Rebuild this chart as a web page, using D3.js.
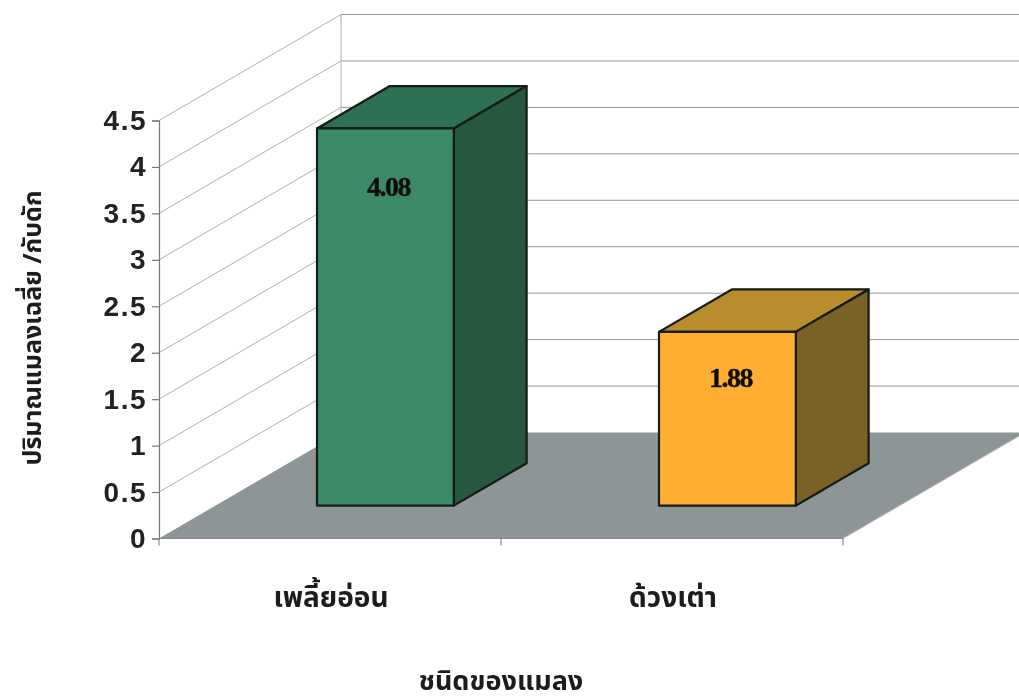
<!DOCTYPE html>
<html><head><meta charset="utf-8">
<script src="https://cdn.jsdelivr.net/npm/d3@7"></script>
<style>html,body{margin:0;background:#fff;overflow:hidden}svg{display:block}</style>
</head><body><div id="c"></div>
<script>
const categories = ["เพลี้ยอ่อน", "ด้วงเต่า"];
const values = [4.08, 1.88];
const valueLabels = ["4.08", "1.88"];
const ticks = [0, 0.5, 1, 1.5, 2, 2.5, 3, 3.5, 4, 4.5];
const frontColors = ["#3c8a68", "#ffae33"];
const sideColors = ["#25583f", "#7a6228"];
const topColors = ["#2f6f52", "#b98c2e"];
const yTitle = "ปริมาณแมลงเฉลี่ย /กับดัก";
const xTitle = "ชนิดของแมลง";

const W = 1019, H = 699;
const svg = d3.select("#c").append("svg").attr("width", W).attr("height", H);
svg.append("defs").append("filter").attr("id", "scan").attr("x", 0).attr("y", 0).attr("width", 1).attr("height", 1)
  .attr("filterUnits", "userSpaceOnUse").attr("width", W).attr("height", H)
  .append("feGaussianBlur").attr("stdDeviation", 0.45);
const g = svg.append("g").attr("filter", "url(#scan)");

const x0 = 159, x1 = 843, y0 = 538.5, yTop = 120.5;
const y = d3.scaleLinear().domain([0, 4.5]).range([y0, yTop]);
const x = d3.scaleBand().domain(categories).range([x0, x1]);
// depth axis: 0 = front of the floor, 1 = back wall
const dx = d3.scaleLinear().domain([0, 1]).range([0, 182]);
const dy = d3.scaleLinear().domain([0, 1]).range([0, -106]);
const barH = d3.scaleLinear().domain([0, 4.5]).range([0, 416]);
const barW = x.bandwidth() * 0.4;
const depthFront = 0.31, depthBack = 0.71;
const sideGrid = "#b0b0b0", backGrid = "#959595";
const line = d3.line();
const thaiFont = "'Noto Sans','Noto Sans Thai','DejaVu Sans',sans-serif";

// floor
g.append("path").attr("fill", "#8e9597").attr("d", line([
  [x0, y0], [x1, y0], [x1 + dx(1), y0 + dy(1)], [x0 + dx(1), y0 + dy(1)]]) + "Z");

// gridlines on side and back walls
ticks.forEach(t => {
  if (t > 0) {
    g.append("path").attr("fill", "none").attr("stroke", sideGrid)
      .attr("d", line([[x0, y(t)], [x0 + dx(1), y(t) + dy(1)]]));
    g.append("path").attr("fill", "none").attr("stroke", backGrid)
      .attr("d", line([[x0 + dx(1), y(t) + dy(1)], [W, y(t) + dy(1)]]));
  }
});
g.append("path").attr("fill", "none").attr("stroke", sideGrid)
  .attr("d", line([[x0 + dx(1), y(4.5) + dy(1)], [x0 + dx(1), y0 + dy(1)]]));
g.append("path").attr("fill", "none").attr("stroke", "#8a8a8a")
  .attr("d", line([[x0, y0], [x1, y0]]));
g.append("path").attr("fill", "none").attr("stroke", "#b5b5b5")
  .attr("d", line([[x1, y0], [x1 + dx(1), y0 + dy(1)]]));

// y axis
const yAxis = d3.axisLeft(y).tickValues(ticks).tickSize(7).tickPadding(5).tickFormat(d3.format("~g"));
const ya = g.append("g").attr("transform", `translate(${x0},0)`).call(yAxis);
ya.selectAll("path,line").attr("stroke", "#777").attr("stroke-width", 1.2);
ya.selectAll("text").attr("fill", "#222").attr("font-family", "'Liberation Sans'").attr("font-weight", 700)
  .attr("font-size", 28).attr("letter-spacing", 1.5);

// x axis ticks and labels
const xa = g.append("g").attr("transform", `translate(0,${y0})`);
[x0, x0 + x.bandwidth(), x1].forEach(p => xa.append("line").attr("x1", p).attr("x2", p).attr("y1", 0).attr("y2", 7).attr("stroke", "#777"));
categories.forEach(c => {
  xa.append("text").attr("x", x(c) + x.bandwidth() / 2 + 1).attr("y", 68).attr("text-anchor", "middle")
    .attr("font-family", thaiFont).attr("font-weight", 700).attr("font-size", 28).attr("fill", "#1a1a1a").text(c);
});

// bars
const edge = "#151a12";
categories.forEach((c, i) => {
  const cx = x(c) + x.bandwidth() / 2;
  const fx0 = cx - barW / 2 + dx(depthFront) - 1, fx1 = fx0 + barW;
  const base = y0 + dy(depthFront);
  const top = base - barH(values[i]);
  const ox = dx(depthBack - depthFront), oy = dy(depthBack - depthFront);
  const b = g.append("g").attr("stroke", edge).attr("stroke-width", 2.2).attr("stroke-linejoin", "round");
  b.append("path").attr("fill", topColors[i]).attr("d", line([[fx0, top], [fx0 + ox, top + oy], [fx1 + ox, top + oy], [fx1, top]]) + "Z");
  b.append("path").attr("fill", sideColors[i]).attr("d", line([[fx1, top], [fx1 + ox, top + oy], [fx1 + ox, base + oy], [fx1, base]]) + "Z");
  b.append("path").attr("fill", frontColors[i]).attr("d", line([[fx0, top], [fx1, top], [fx1, base], [fx0, base]]) + "Z");
  g.append("text").attr("x", (fx0 + fx1) / 2 + 3).attr("y", top + 44.5 + barH(values[i]) * 0.06).attr("text-anchor", "middle")
    .attr("font-family", "'Liberation Serif'").attr("font-weight", 700).attr("font-size", 28).attr("letter-spacing", -1.5)
    .attr("stroke", "#111").attr("stroke-width", 0.4).attr("fill", "#111").text(valueLabels[i]);
});

// titles
g.append("text").attr("x", 501).attr("y", 690).attr("text-anchor", "middle")
  .attr("font-family", thaiFont).attr("font-weight", 700).attr("font-size", 27).attr("fill", "#1a1a1a").text(xTitle);
g.append("text").attr("transform", "translate(41,328) rotate(-90)").attr("text-anchor", "middle")
  .attr("font-family", thaiFont).attr("font-weight", 700).attr("font-size", 25).attr("fill", "#1a1a1a").text(yTitle);
</script></body></html>
